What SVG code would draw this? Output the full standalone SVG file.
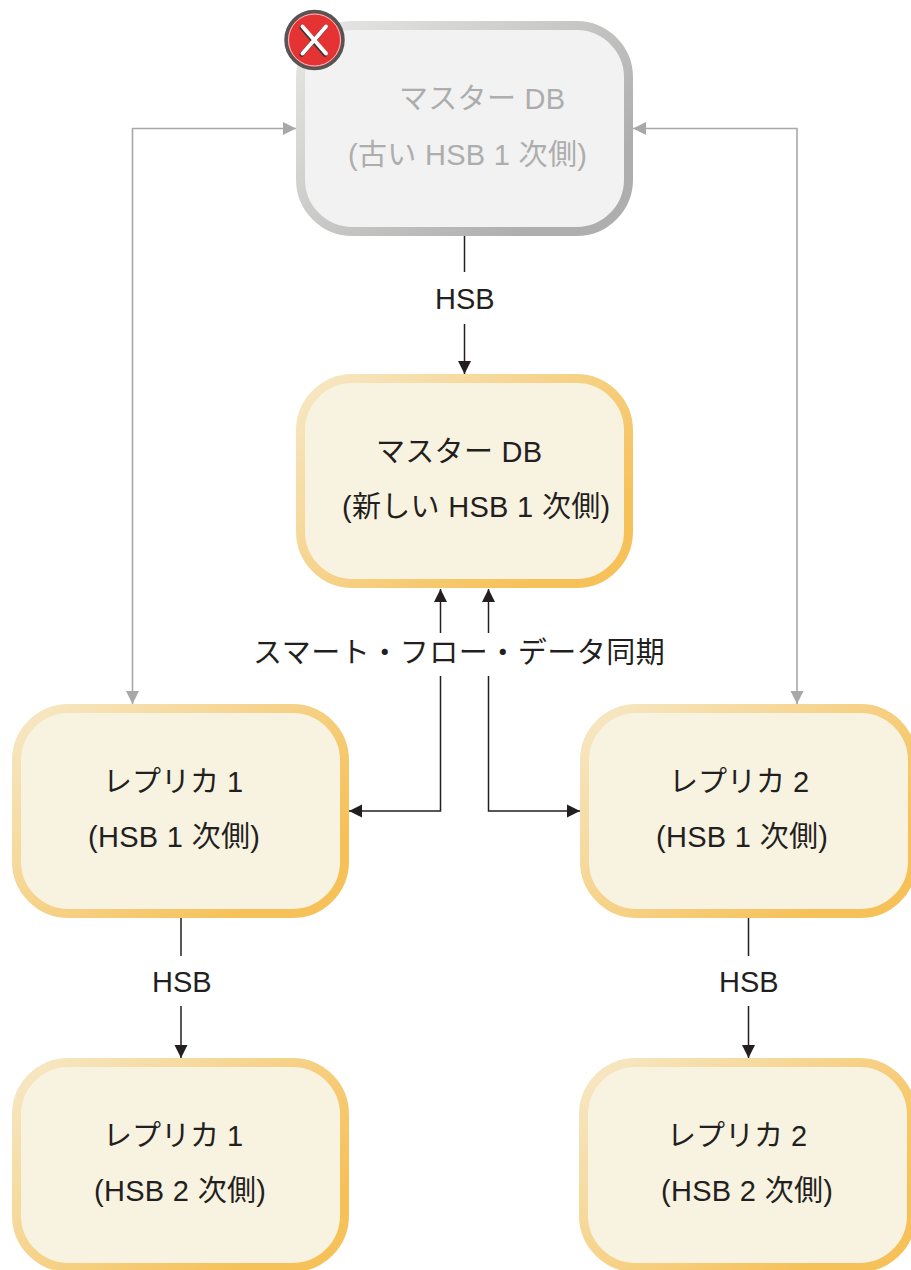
<svg xmlns="http://www.w3.org/2000/svg" width="911" height="1270" viewBox="0 0 911 1270">
<style>
text{font-family:"Liberation Sans","Noto Sans CJK JP",sans-serif;font-size:29px;fill:#231f20;white-space:pre}
.dim text{fill:#adadad}
.ls{letter-spacing:.3px}
.box{fill:#f8f3e1;stroke:url(#gold);stroke-width:9}
.dim .box{fill:#f2f2f2;stroke:url(#grey)}
.k{fill:none;stroke:#231f20;stroke-width:1.5}
.g{fill:none;stroke:#a8a8a8;stroke-width:1.6}
</style>
<defs>
<linearGradient id="gold" x1="0" y1="0" x2="1" y2=".75"><stop offset="0" stop-color="#f6e8c6"/><stop offset=".92" stop-color="#f6c159"/></linearGradient>
<linearGradient id="grey" x1="0" y1="0" x2="1" y2=".75"><stop offset="0" stop-color="#e8e8e6"/><stop offset=".92" stop-color="#aeaeae"/></linearGradient>
<marker id="ak" markerUnits="userSpaceOnUse" markerWidth="14" markerHeight="14" refX="13" refY="7" orient="auto-start-reverse"><path d="M0,0.5L13,7L0,13.5Z" fill="#231f20"/></marker>
<marker id="ag" markerUnits="userSpaceOnUse" markerWidth="14" markerHeight="14" refX="13" refY="7" orient="auto-start-reverse"><path d="M0,0.5L13,7L0,13.5Z" fill="#a8a8a8"/></marker>
</defs>
<g id="connectors">
<path class="g" marker-start="url(#ag)" marker-end="url(#ag)" d="M296,128.500H132.500V704"/>
<path class="g" marker-start="url(#ag)" marker-end="url(#ag)" d="M633,128.500H797V704"/>
<path class="k" d="M464.500,236V272"/>
<path class="k" marker-end="url(#ak)" d="M464.500,324V374"/>
<path class="k" marker-end="url(#ak)" d="M440.500,633V589"/>
<path class="k" marker-end="url(#ak)" d="M440.500,676V811H349"/>
<path class="k" marker-end="url(#ak)" d="M488.500,633V589"/>
<path class="k" marker-end="url(#ak)" d="M488.500,676V811H580"/>
<path class="k" d="M181,918V956"/>
<path class="k" marker-end="url(#ak)" d="M181,1006V1058"/>
<path class="k" d="M748.500,918V956"/>
<path class="k" marker-end="url(#ak)" d="M748.500,1006V1058"/>
</g>
<g id="connector-labels">
<text x="435" y="309">HSB</text>
<text x="253" y="663" style="letter-spacing:.5px">スマート・フロー・データ同期</text>
<text x="152" y="992">HSB</text>
<text x="719" y="992">HSB</text>
</g>
<g id="old-master" class="dim">
<rect class="box" x="300.500" y="25.500" width="328" height="206" rx="52"/>
<text class="ls" x="399" y="109">マスター DB</text>
<text class="ls" x="348" y="165">(古い HSB 1 次側)</text>
</g>
<g id="failed-icon">
<circle cx="314.500" cy="40" r="28.500" fill="#e53333" stroke="#555" stroke-width="3.500"/>
<circle cx="314.500" cy="40" r="26" fill="none" stroke="#f2c4c4" stroke-width="1"/>
<path d="M302.500,26.500L326,53.500M326,26.500L302.500,53.500" stroke="#333" stroke-width="4.500" stroke-linecap="round" transform="translate(-0.800,1)"/>
<path d="M302.500,26.500L326,53.500M326,26.500L302.500,53.500" stroke="#fff" stroke-width="4" stroke-linecap="round"/>
</g>
<g id="new-master">
<rect class="box" x="300.500" y="378.500" width="328" height="205" rx="52"/>
<text class="ls" x="376" y="462">マスター DB</text>
<text class="ls" x="342" y="517">(新しい HSB 1 次側)</text>
</g>
<g id="replica1-hsb1">
<rect class="box" x="16.500" y="708.500" width="328" height="205" rx="52"/>
<text x="103" y="792">レプリカ 1</text>
<text class="ls" x="88" y="847">(HSB 1 次側)</text>
</g>
<g id="replica2-hsb1">
<rect class="box" x="584.500" y="708.500" width="328" height="205" rx="52"/>
<text x="669" y="792">レプリカ 2</text>
<text class="ls" x="656" y="847">(HSB 1 次側)</text>
</g>
<g id="replica1-hsb2">
<rect class="box" x="16.500" y="1062.500" width="328" height="205" rx="52"/>
<text x="103" y="1146">レプリカ 1</text>
<text class="ls" x="94" y="1201">(HSB 2 次側)</text>
</g>
<g id="replica2-hsb2">
<rect class="box" x="583.500" y="1062.500" width="328" height="205" rx="52"/>
<text x="667" y="1146">レプリカ 2</text>
<text class="ls" x="661" y="1201">(HSB 2 次側)</text>
</g>
</svg>
